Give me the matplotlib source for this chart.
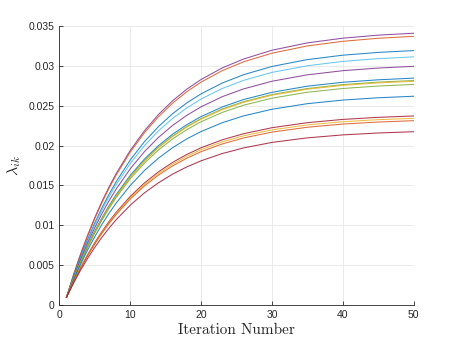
import matplotlib
matplotlib.use("Agg")
import matplotlib.pyplot as plt

# Iteration numbers at which the curves are sampled
iterations = [1, 2, 3, 4, 5, 6, 7, 8, 10, 12, 14, 16, 18, 20, 23, 26, 30, 35, 40, 45, 50]

# lambda_ik values
lam_01 = [0.00100, 0.00384, 0.00643, 0.00881, 0.01099, 0.01298, 0.01480, 0.01647, 0.01939, 0.02184, 0.02390, 0.02562, 0.02706, 0.02827, 0.02972, 0.03083, 0.03193, 0.03285, 0.03344, 0.03382, 0.03406]
lam_02 = [0.00100, 0.00380, 0.00637, 0.00872, 0.01087, 0.01284, 0.01464, 0.01628, 0.01917, 0.02160, 0.02362, 0.02532, 0.02675, 0.02794, 0.02938, 0.03048, 0.03156, 0.03247, 0.03305, 0.03343, 0.03367]
lam_03 = [0.00100, 0.00365, 0.00608, 0.00830, 0.01033, 0.01219, 0.01389, 0.01545, 0.01819, 0.02048, 0.02239, 0.02400, 0.02535, 0.02647, 0.02783, 0.02887, 0.02990, 0.03076, 0.03131, 0.03166, 0.03189]
lam_04 = [0.00100, 0.00358, 0.00595, 0.00811, 0.01009, 0.01191, 0.01357, 0.01508, 0.01775, 0.01998, 0.02185, 0.02341, 0.02472, 0.02582, 0.02715, 0.02816, 0.02916, 0.02999, 0.03053, 0.03088, 0.03110]
lam_05 = [0.00100, 0.00348, 0.00575, 0.00783, 0.00973, 0.01148, 0.01307, 0.01453, 0.01709, 0.01923, 0.02103, 0.02253, 0.02379, 0.02485, 0.02612, 0.02709, 0.02805, 0.02885, 0.02937, 0.02970, 0.02992]
lam_06 = [0.00100, 0.00335, 0.00551, 0.00748, 0.00929, 0.01094, 0.01245, 0.01384, 0.01626, 0.01830, 0.02000, 0.02143, 0.02262, 0.02363, 0.02483, 0.02576, 0.02666, 0.02743, 0.02792, 0.02823, 0.02844]
lam_07 = [0.00100, 0.00333, 0.00546, 0.00741, 0.00920, 0.01083, 0.01233, 0.01370, 0.01610, 0.01811, 0.01980, 0.02121, 0.02239, 0.02338, 0.02458, 0.02549, 0.02639, 0.02714, 0.02763, 0.02794, 0.02814]
lam_08 = [0.00100, 0.00332, 0.00544, 0.00739, 0.00917, 0.01080, 0.01229, 0.01365, 0.01604, 0.01805, 0.01973, 0.02113, 0.02231, 0.02330, 0.02449, 0.02540, 0.02630, 0.02705, 0.02753, 0.02784, 0.02804]
lam_09 = [0.00100, 0.00329, 0.00538, 0.00730, 0.00905, 0.01065, 0.01212, 0.01347, 0.01583, 0.01780, 0.01945, 0.02084, 0.02200, 0.02298, 0.02415, 0.02505, 0.02593, 0.02667, 0.02714, 0.02745, 0.02765]
lam_10 = [0.00100, 0.00316, 0.00514, 0.00695, 0.00860, 0.01012, 0.01151, 0.01278, 0.01500, 0.01687, 0.01843, 0.01974, 0.02084, 0.02175, 0.02286, 0.02371, 0.02454, 0.02524, 0.02569, 0.02598, 0.02617]
lam_11 = [0.00100, 0.00295, 0.00473, 0.00636, 0.00786, 0.00922, 0.01048, 0.01162, 0.01363, 0.01531, 0.01672, 0.01790, 0.01889, 0.01972, 0.02072, 0.02148, 0.02223, 0.02286, 0.02327, 0.02353, 0.02370]
lam_12 = [0.00100, 0.00292, 0.00468, 0.00629, 0.00777, 0.00912, 0.01035, 0.01148, 0.01346, 0.01512, 0.01652, 0.01768, 0.01866, 0.01948, 0.02046, 0.02122, 0.02196, 0.02258, 0.02298, 0.02324, 0.02340]
lam_13 = [0.00100, 0.00290, 0.00463, 0.00622, 0.00768, 0.00901, 0.01023, 0.01134, 0.01330, 0.01494, 0.01631, 0.01746, 0.01842, 0.01923, 0.02020, 0.02095, 0.02168, 0.02229, 0.02269, 0.02294, 0.02311]
lam_14 = [0.00100, 0.00278, 0.00441, 0.00590, 0.00726, 0.00851, 0.00965, 0.01070, 0.01253, 0.01407, 0.01535, 0.01643, 0.01733, 0.01809, 0.01900, 0.01970, 0.02039, 0.02096, 0.02133, 0.02157, 0.02173]

series = [lam_01, lam_02, lam_03, lam_04, lam_05, lam_06, lam_07,
          lam_08, lam_09, lam_10, lam_11, lam_12, lam_13, lam_14]
colors = ['#7E2F8E', '#D95319', '#0072BD', '#4DBEEE', '#7E2F8E', '#0072BD', '#77AC30',
          '#EDB120', '#77AC30', '#0072BD', '#A2142F', '#EDB120', '#D95319', '#A2142F']

x_ticks = [0, 10, 20, 30, 40, 50]
y_ticks = [0, 0.005, 0.01, 0.015, 0.02, 0.025, 0.03, 0.035]
y_tick_labels = ['0', '0.005', '0.01', '0.015', '0.02', '0.025', '0.03', '0.035']

plt.rcParams['mathtext.fontset'] = 'cm'
fig = plt.figure(figsize=(4.57, 3.43), dpi=100)
ax = fig.add_axes([0.13, 0.11, 0.775, 0.815])
for vals, c in zip(series, colors):
    ax.plot(iterations, vals, lw=0.75, color=c, alpha=0.85)

ax.set_xlim(0, 50)
ax.set_ylim(0, 0.035)
ax.set_xticks(x_ticks)
ax.set_yticks(y_ticks)
ax.set_yticklabels(y_tick_labels)
ax.grid(True, color='#e6e6e6', lw=0.6)
ax.set_axisbelow(True)
for s in ['top', 'right']:
    ax.spines[s].set_visible(False)
for s in ['left', 'bottom']:
    ax.spines[s].set_color('#262626')
    ax.spines[s].set_linewidth(0.6)
ax.tick_params(direction='in', length=3, width=0.6, color='#262626',
               labelcolor='#262626', labelsize=7.5)
for lab in ax.get_xticklabels() + ax.get_yticklabels():
    lab.set_fontfamily('Liberation Sans')
ax.set_xlabel('Iteration Number', fontfamily='cmr10', fontsize=11,
              color='#262626', labelpad=2)
ax.set_ylabel(r'$\lambda_{ik}$', fontsize=11.5, color='#262626', labelpad=4)
fig.savefig("out.png", dpi=100)
